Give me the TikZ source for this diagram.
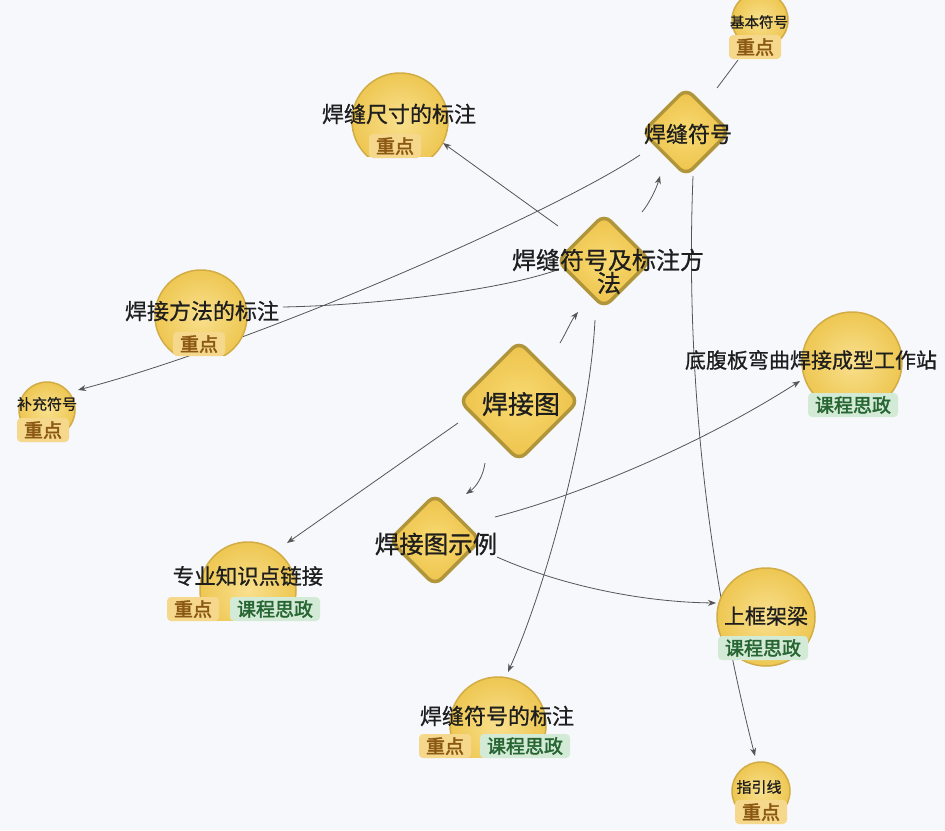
\documentclass[tikz,border=0pt]{standalone}
\usepackage{fontspec}
\setmainfont{Noto Sans CJK SC}
\newfontfamily\cjkb[FakeBold=2.2]{Noto Sans CJK SC}
\newfontfamily\cjkm[FakeBold=0.8]{Noto Sans CJK SC}
\usetikzlibrary{shapes.geometric,arrows.meta,backgrounds}
\definecolor{bgc}{HTML}{F7F8FC}
\definecolor{circin}{HTML}{F9E08E}
\definecolor{circout}{HTML}{EEC752}
\definecolor{circedge}{HTML}{D2AC44}
\definecolor{diain}{HTML}{F8DA72}
\definecolor{diaout}{HTML}{EDC24A}
\definecolor{diaedge}{HTML}{B0953A}
\definecolor{txt}{HTML}{1E1E1E}
\definecolor{kpfill}{HTML}{F6D88C}
\definecolor{kptext}{HTML}{8A5812}
\definecolor{szfill}{HTML}{D3EAD6}
\definecolor{sztext}{HTML}{276632}
\definecolor{edgec}{HTML}{555555}
\tikzset{
  circ/.style={circle, draw=circedge, line width=1.5pt, inner color=circin, outer color=circout, inner sep=0pt, minimum size=#1},
  dia/.style={diamond, aspect=1, draw=diaedge, line width=3.5pt, rounded corners=9pt, inner color=diain, outer color=diaout, inner sep=0pt, minimum size=#1},
  lbl/.style={text=txt, font=\cjkm\fontsize{#1}{#1}\selectfont, inner sep=0pt},
  kp/.style={rounded corners=4pt, fill=kpfill, text=kptext, font=\cjkb\fontsize{19}{19}\selectfont, inner xsep=7pt, inner ysep=2pt, minimum height=24pt},
  sz/.style={rounded corners=4pt, fill=szfill, text=sztext, font=\cjkb\fontsize{19}{19}\selectfont, inner xsep=7pt, inner ysep=2pt, minimum height=24pt},
  conn/.style={draw=edgec, line width=0.8pt},
  arr/.style={conn, -{Stealth[length=8pt,width=6pt]}},
}
\begin{document}
\begin{tikzpicture}[x=1pt,y=-1pt]
\useasboundingbox (0,0) rectangle (945,830);
% nodes
\node[circ=56pt] (jbC) at (760,20) {};
\node[lbl=14.5] (jbT) at (759,22) {基本符号};
\node[kp] (jbK) at (755,47) {重点};

\node[dia=88pt] (fs) at (686,132) {};
\node[lbl=22] (fsT) at (688,134) {焊缝符号};

\begin{scope}
\clip (340,60) rectangle (460,156);
\node[circ=96pt] (ccC) at (400,121) {};
\end{scope}
\node[lbl=22] (ccT) at (399,114) {焊缝尺寸的标注};
\node[kp] (ccK) at (395,146) {重点};

\node[dia=94pt] (fh) at (604,261) {};
\node[lbl=24] (fhT1) at (608,260) {焊缝符号及标注方};
\node[lbl=24] (fhT2) at (609,283) {法};

\begin{scope}
\clip (145,260) rectangle (260,355);
\node[circ=92pt] (hfC) at (201,316) {};
\end{scope}
\node[lbl=22] (hfT) at (202,311) {焊接方法的标注};
\node[kp] (hfK) at (199,344) {重点};

\node[circ=56pt] (bcC) at (47,410) {};
\node[lbl=15] (bcT) at (47,404) {补充符号};
\node[kp] (bcK) at (43,430) {重点};

\node[dia=120pt] (ht) at (519,401) {};
\node[lbl=26] (htT) at (521,404) {焊接图};

\node[circ=100pt] (dfC) at (852,362) {};
\node[lbl=21] (dfT) at (811,360) {底腹板弯曲焊接成型工作站};
\node[sz] (dfS) at (853,405) {课程思政};

\node[dia=92pt] (sl) at (435,540) {};
\node[lbl=24.5] (slT) at (436,544) {焊接图示例};

\begin{scope}
\clip (190,530) rectangle (310,620);
\node[circ=96pt] (zyC) at (248,590) {};
\end{scope}
\node[lbl=21.5] (zyT) at (248,576) {专业知识点链接};
\node[kp] (zyK) at (193,609) {重点};
\node[sz] (zyS) at (275,609) {课程思政};

\node[circ=98pt] (skC) at (766,617) {};
\node[lbl=21] (skT) at (766,616) {上框架梁};
\node[sz] (skS) at (763,648) {课程思政};

\begin{scope}
\clip (440,665) rectangle (560,757);
\node[circ=96pt] (fbC) at (498,725) {};
\end{scope}
\node[lbl=22] (fbT) at (497,716) {焊缝符号的标注};
\node[kp] (fbK) at (445,746) {重点};
\node[sz] (fbS) at (525,746) {课程思政};

\node[circ=58pt] (zxC) at (761,791) {};
\node[lbl=15] (zxT) at (759,787) {指引线};
\node[kp] (zxK) at (761,812) {重点};

% connector end points
\coordinate (e1s) at (558,226); \coordinate (e1e) at (443,143);
\coordinate (e2s) at (642,212); \coordinate (e2e) at (660,176);
\coordinate (e3s) at (717,88);  \coordinate (e3e) at (738,60);
\coordinate (e4s) at (640,155); \coordinate (e4e) at (78,390);
\coordinate (e5s) at (557,270); \coordinate (e5e) at (283,307);
\coordinate (e6s) at (595,320); \coordinate (e6e) at (508,672);
\coordinate (e7s) at (560,343); \coordinate (e7e) at (578,312);
\coordinate (e8s) at (485,463); \coordinate (e8e) at (466,494);
\coordinate (e9s) at (458,423); \coordinate (e9e) at (287,543);
\coordinate (e10s) at (495,517); \coordinate (e10e) at (800,381);
\coordinate (e11s) at (497,557); \coordinate (e11e) at (716,603);
\coordinate (e12s) at (693,176); \coordinate (e12e) at (755,756);

\begin{pgfonlayer}{background}
\fill[bgc] (0,0) rectangle (945,830);
\draw[arr] (e1s) -- (e1e);
\draw[arr] (e2s) .. controls (648,205) and (656,190) .. (e2e);
\draw[conn] (e3s) -- (e3e);
\draw[arr] (e4s) .. controls (550,215) and (250,345) .. (e4e);
\draw[conn] (e5s) .. controls (500,290) and (380,305) .. (e5e);
\draw[arr] (e6s) .. controls (590,420) and (549,580) .. (e6e);
\draw[arr] (e7s) .. controls (566,333) and (571,321) .. (e7e);
\draw[arr] (e8s) .. controls (483,477) and (476,487) .. (e8e);
\draw[arr] (e9s) -- (e9e);
\draw[arr] (e10s) .. controls (580,495) and (700,445) .. (e10e);
\draw[arr] (e11s) .. controls (560,585) and (640,602) .. (e11e);
\draw[arr] (e12s) .. controls (684,400) and (715,600) .. (e12e);
\end{pgfonlayer}
\end{tikzpicture}
\end{document}
